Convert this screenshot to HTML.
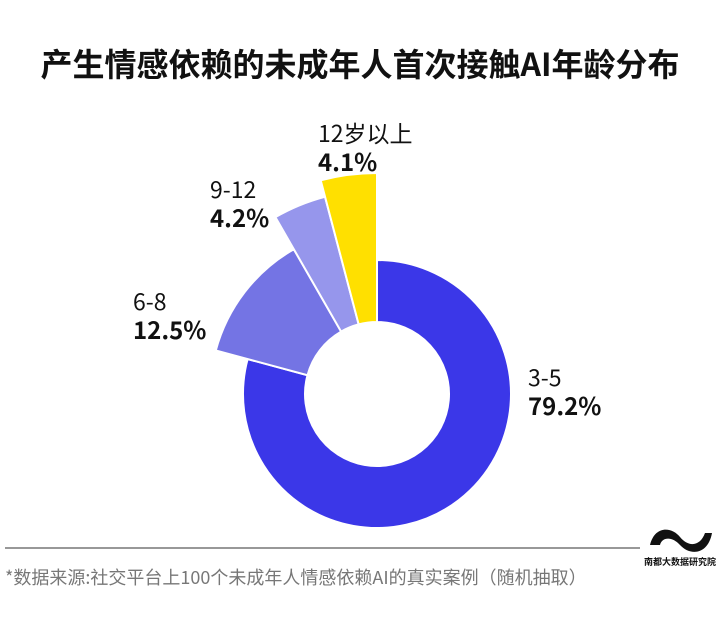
<!DOCTYPE html>
<html><head><meta charset="utf-8"><style>
body{margin:0;background:#fff;width:720px;height:625px;overflow:hidden;font-family:"Noto Sans CJK SC","Liberation Sans",sans-serif}
svg{display:block}
text{font-family:"Noto Sans CJK SC","Liberation Sans",sans-serif}
</style></head><body>
<svg width="720" height="625">
<text x="360" y="76" text-anchor="middle" font-size="32" font-weight="bold" fill="#111">产生情感依赖的未成年人首次接触AI年龄分布</text>
<g id="slices"></g>
<g id="labels"></g>
<line x1="5" y1="548" x2="640" y2="548" stroke="#777" stroke-width="1.5"/>
<text x="5" y="584" font-size="18" fill="#777">*数据来源:社交平台上100个未成年人情感依赖AI的真实案例（随机抽取）</text>
<g>
<path d="M650,545 C655,525 672,527 680,537 C688,547 700,547 705,533 L712,533 C708,555 690,556 680,545 C672,536 662,537 660,545 Z" fill="#111"/>
<text x="680" y="565" text-anchor="middle" font-size="9" font-weight="bold" fill="#111">南都大数据研究院</text>
</g>
</svg>
<script>
const categories=["3-5","6-8","9-12","12岁以上"];
const values=[79.2,12.5,4.2,4.1];
const valueLabels=["79.2%","12.5%","4.2%","4.1%"];
const colors=["#3b37e8","#7474e4","#9696ec","#ffe000"];
const outerR=[134,167,204,221];
const cx=377,cy=394,innerR=72;
const ns="http://www.w3.org/2000/svg";
const total=values.reduce((a,b)=>a+b,0);
function pt(r,a){return [cx+r*Math.sin(a),cy-r*Math.cos(a)];}
const g=document.getElementById('slices');
let a0=0;
values.forEach((v,i)=>{
  const a1=a0+v/total*2*Math.PI;
  const R=outerR[i];
  const large=(a1-a0)>Math.PI?1:0;
  const p1=pt(R,a0),p2=pt(R,a1),p3=pt(innerR,a1),p4=pt(innerR,a0);
  const d=`M${p1[0]},${p1[1]} A${R},${R} 0 ${large} 1 ${p2[0]},${p2[1]} L${p3[0]},${p3[1]} A${innerR},${innerR} 0 ${large} 0 ${p4[0]},${p4[1]} Z`;
  const p=document.createElementNS(ns,'path');
  p.setAttribute('d',d);p.setAttribute('fill',colors[i]);
  p.setAttribute('stroke','#fff');p.setAttribute('stroke-width','2');
  
  
  g.appendChild(p);
  a0=a1;
});
const labelPos=[[528,386],[133,310],[210,198],[318,142]];
const lg=document.getElementById('labels');
categories.forEach((c,i)=>{
  const t=document.createElementNS(ns,'text');
  t.setAttribute('x',labelPos[i][0]);t.setAttribute('y',labelPos[i][1]);
  t.setAttribute('font-size','23');t.setAttribute('fill','#111');
  t.textContent=c;
  
  
  lg.appendChild(t);
  const t2=document.createElementNS(ns,'text');
  t2.setAttribute('x',labelPos[i][0]);t2.setAttribute('y',labelPos[i][1]+29);
  t2.setAttribute('font-size','24');t2.setAttribute('font-weight','bold');t2.setAttribute('fill','#111');
  t2.textContent=valueLabels[i];
  
  
  lg.appendChild(t2);
});
</script>
</body></html>
